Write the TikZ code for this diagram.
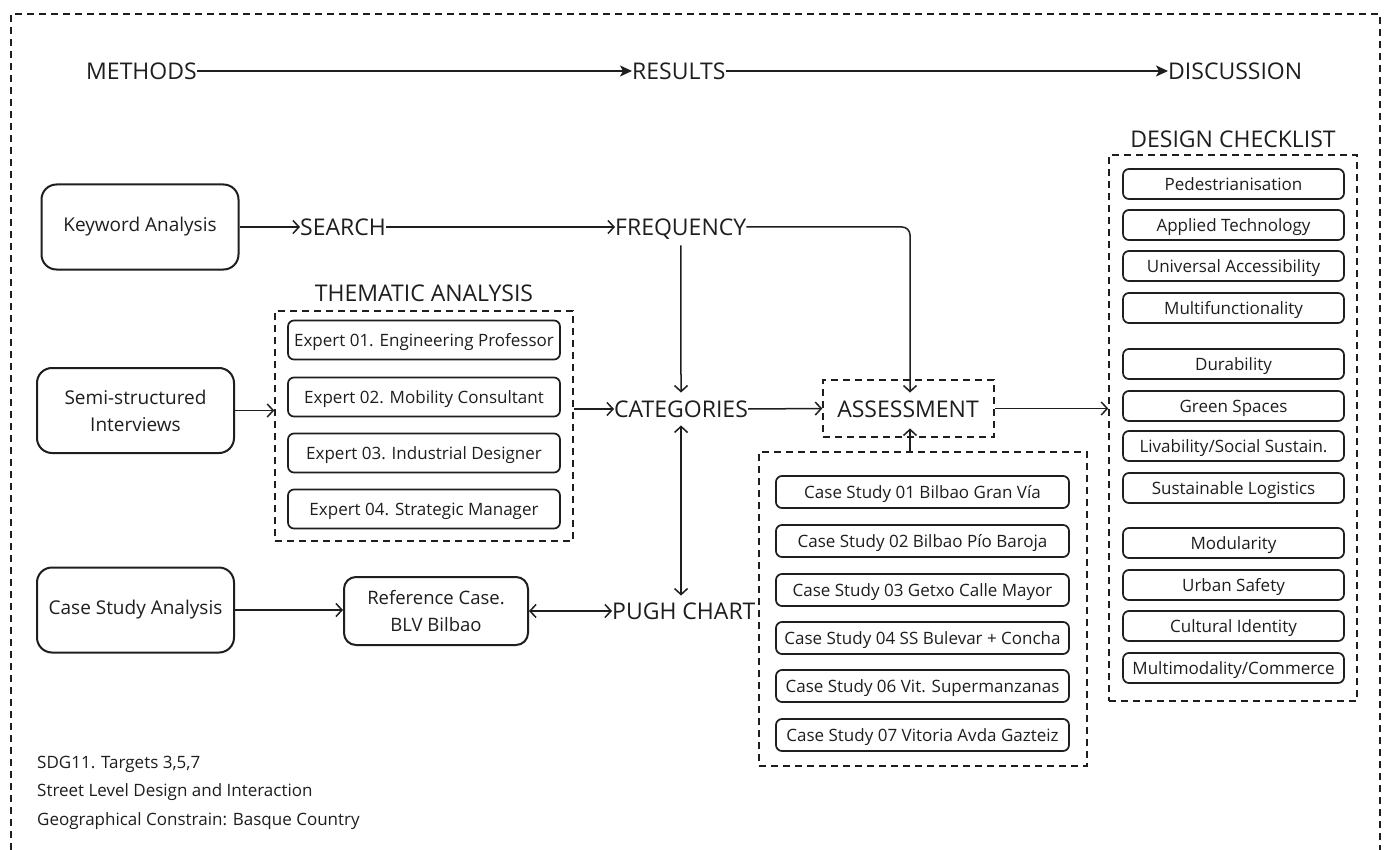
\documentclass[tikz,border=0pt]{standalone}
\usepackage{fontspec}
\setmainfont{Open Sans}
\usetikzlibrary{arrows.meta,calc}
\definecolor{ink}{HTML}{1E1E1E}
\begin{document}
\begin{tikzpicture}[x=1pt,y=-1pt,
  every node/.style={text=ink},
  bigbox/.style={draw=ink, line width=2, rounded corners=15, minimum width=197, minimum height=85, align=center, font=\fontsize{19}{27}\selectfont},
  refbox/.style={draw=ink, line width=2, rounded corners=12, minimum width=184, minimum height=68, align=center, font=\fontsize{18.5}{27}\selectfont},
  itembox/.style={draw=ink, line width=1.7, rounded corners=6, inner sep=0, text height=12.5, text depth=0, font=\fontsize{17}{19}\selectfont},
  expbox/.style={itembox, minimum width=272, minimum height=39},
  casebox/.style={itembox, minimum width=293, minimum height=32},
  chkbox/.style={itembox, minimum width=221, minimum height=30},
  dbox/.style={draw=ink, line width=1.5, dash pattern=on 7 off 5, inner sep=0},
  lab/.style={inner sep=0, text height=16.5, text depth=0, font=\fontsize{23}{27}\selectfont},
  note/.style={inner sep=0, anchor=west, font=\fontsize{17}{20}\selectfont},
  arr/.style={draw=ink, line width=1.5, -{Straight Barb[length=6,width=13,line width=1.5]}},
  darr/.style={draw=ink, line width=1.5, {Straight Barb[length=6,width=13,line width=1.5]}-{Straight Barb[length=6,width=13,line width=1.5]}},
  harr/.style={draw=ink, line width=1.5, -{Stealth[length=12,width=11,inset=3]}}
]
\useasboundingbox (0,0) rectangle (1391,850);
\fill[white] (0,0) rectangle (1391,850);
% outer border
\draw[dbox] (11,850) -- (11,14) -- (1380,14) -- (1380,850);

% header
\node[lab, anchor=west] (methods) at (86,71) {METHODS};
\node[lab, anchor=west] (results) at (632,71) {RESULTS};
\node[lab, anchor=west] (discussion) at (1168,71) {DISCUSSION};
\draw[harr] (methods) -- (results);
\draw[harr] (results) -- (discussion);

% left column
\node[bigbox] (kw) at (140,227) {Keyword Analysis};
\node[bigbox] (ssi) at (135.5,410.5) {Semi-structured\\Interviews};
\node[bigbox] (csa) at (135.5,610) {Case Study Analysis};

% search / frequency
\node[lab, anchor=west] (search) at (300,227) {SEARCH};
\node[lab, anchor=west] (freq) at (615,227) {FREQUENCY};
\draw[arr] (kw) -- (search);
\draw[arr] (search) -- (freq);

% thematic analysis
\node[lab] (thtitle) at (424,293) {THEMATIC ANALYSIS};
\node[dbox, minimum width=298, minimum height=230] (them) at (424,426) {};
\node[expbox] (e1) at (424,340) {Expert 01. Engineering Professor};
\node[expbox] (e2) at (424,397) {Expert 02. Mobility Consultant};
\node[expbox] (e3) at (424,453) {Expert 03. Industrial Designer};
\node[expbox] (e4) at (424,509) {Expert 04. Strategic Manager};

% categories / assessment
\node[lab, anchor=west] (cat) at (614,409) {CATEGORIES};
\node[dbox, minimum width=171, minimum height=57] (assbox) at (908.5,408.5) {};
\node[lab] (ass) at (908,409) {ASSESSMENT};
\draw[arr] (ssi.east) -- (ssi.east -| them.west);
\draw[arr] (them.east |- cat.west) -- (cat.west);
\draw[arr, shorten <=10, shorten >=8] (freq.south) -- (cat.north);
\draw[arr, rounded corners=8, shorten >=8] (freq.east) -| ([xshift=2]ass.north);
\draw[arr] (cat.east) -- (assbox.west);

% pugh / reference
\node[lab, anchor=west] (pugh) at (612,611) {PUGH CHART};
\node[refbox] (ref) at (436,611) {Reference Case.\\BLV Bilbao};
\draw[arr] (csa.east) -- (csa.east -| ref.west);
\draw[darr] (ref.east) -- (pugh.west);
\draw[darr, shorten <=8, shorten >=7] (cat.south) -- (cat.south |- pugh.north);

% case studies
\node[dbox, minimum width=328, minimum height=314] (csbox) at (923,609) {};
\node[casebox] (c1) at (922.5,492) {Case Study 01 Bilbao Gran Vía};
\node[casebox] (c2) at (922.5,541) {Case Study 02 Bilbao Pío Baroja};
\node[casebox] (c3) at (922.5,590) {Case Study 03 Getxo Calle Mayor};
\node[casebox] (c4) at (922.5,638) {Case Study 04 SS Bulevar + Concha};
\node[casebox] (c6) at (922.5,686) {Case Study 06 Vit. Supermanzanas};
\node[casebox] (c7) at (922.5,735) {Case Study 07 Vitoria Avda Gazteiz};
\draw[arr, shorten >=11] ([xshift=2]csbox.north -| ass.south) -- ([xshift=2]ass.south);

% design checklist
\node[lab] (dctitle) at (1233,139) {DESIGN CHECKLIST};
\node[dbox, minimum width=248, minimum height=546] (dc) at (1233,428) {};
\node[chkbox] (k1) at (1233.5,184) {Pedestrianisation};
\node[chkbox] (k2) at (1233.5,225) {Applied Technology};
\node[chkbox] (k3) at (1233.5,266) {Universal Accessibility};
\node[chkbox] (k4) at (1233.5,308) {Multifunctionality};
\node[chkbox] (k5) at (1233.5,364) {Durability};
\node[chkbox] (k6) at (1233.5,406) {Green Spaces};
\node[chkbox] (k7) at (1233.5,446) {Livability/Social Sustain.};
\node[chkbox] (k8) at (1233.5,488) {Sustainable Logistics};
\node[chkbox] (k9) at (1233.5,543) {Modularity};
\node[chkbox] (k10) at (1233.5,585) {Urban Safety};
\node[chkbox] (k11) at (1233.5,626) {Cultural Identity};
\node[chkbox] (k12) at (1233.5,668) {Multimodality/Commerce};
\draw[arr] (assbox.east) -- (assbox.east -| dc.west);

% notes
\node[note] (n1) at (37,764) {SDG11. Targets 3,5,7};
\node[note] (n2) at (37,792) {Street Level Design and Interaction};
\node[note] (n3) at (37,821) {Geographical Constrain: Basque Country};
\end{tikzpicture}
\end{document}
